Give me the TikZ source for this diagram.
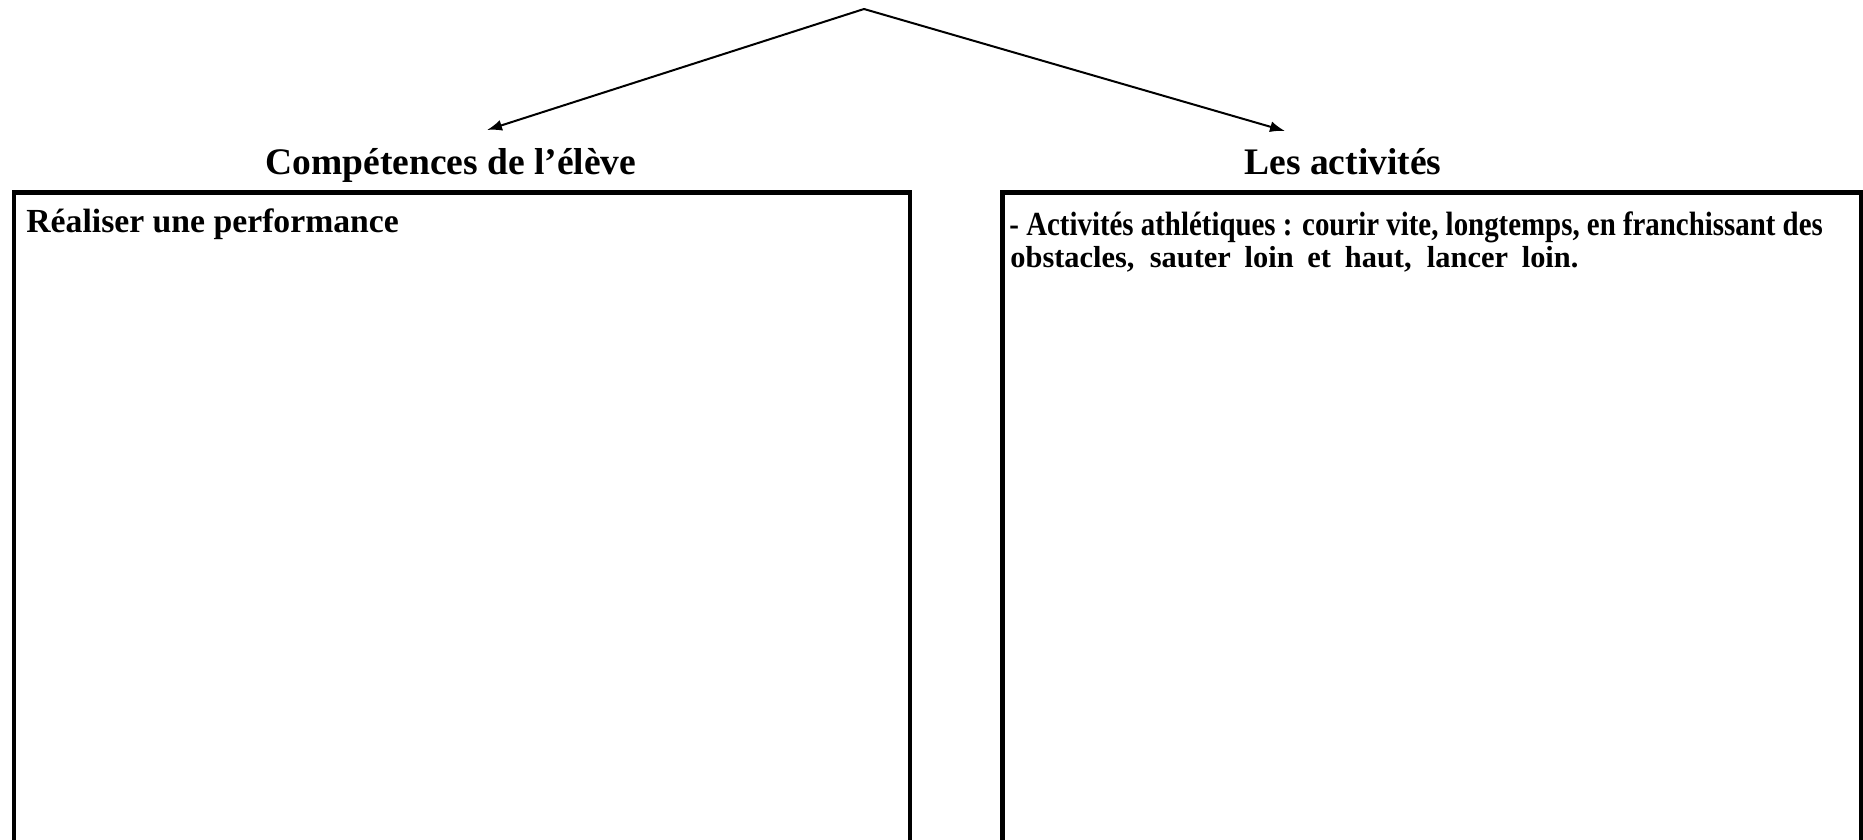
\documentclass[tikz,border=0pt]{standalone}
\usepackage{fontspec}
\usepackage{graphicx}
\setmainfont{Liberation Serif}
\usetikzlibrary{arrows.meta}

\tikzset{
    titre/.style={anchor=base, inner sep=0pt, font=\bfseries\fontsize{18.75}{22}\selectfont},
    texte/.style={anchor=base west, inner sep=0pt, font=\bfseries\fontsize{#1}{#1}\selectfont},
    cadre/.style={line width=2.2pt},
    fleche/.style={line width=1pt, -{Latex[length=7.5pt,width=5.5pt]}}
}

\begin{document}
\begin{tikzpicture}[x=0.5pt,y=-0.5pt]

    % cadre de l'image
    \useasboundingbox (0,0) rectangle (1863,840);

    % sommet et pointes des flèches
    \coordinate (S) at (864,9);
    \coordinate (G) at (487,130);
    \coordinate (D) at (1285,131);

    % titres
    \node[titre] (competences) at (451,174) {Compétences de l’élève};
    \node[titre] (activites) at (1343,174) {Les activités};

    % cadres
    \draw[cadre] (14,870) -- (14,192.5) -- (910,192.5) -- (910,870);
    \draw[cadre] (1002.5,870) -- (1002.5,192.5) -- (1861,192.5) -- (1861,870);

    % textes des cadres
    \node[texte=16.85] (performance) at (26,232) {Réaliser une performance};
    \node[texte=16.85] (athle) at (1009,235) {\scalebox{0.857}[1]{- Activités athlétiques : courir vite, longtemps, en franchissant des}};
    \node[texte=15.2] (obstacles) at (1010,267) {\makebox[284pt][s]{obstacles, sauter loin et haut, lancer loin.}};

    % flèches
    \draw[fleche] (S) -- (G);
    \draw[fleche] (S) -- (D);

\end{tikzpicture}
\end{document}
